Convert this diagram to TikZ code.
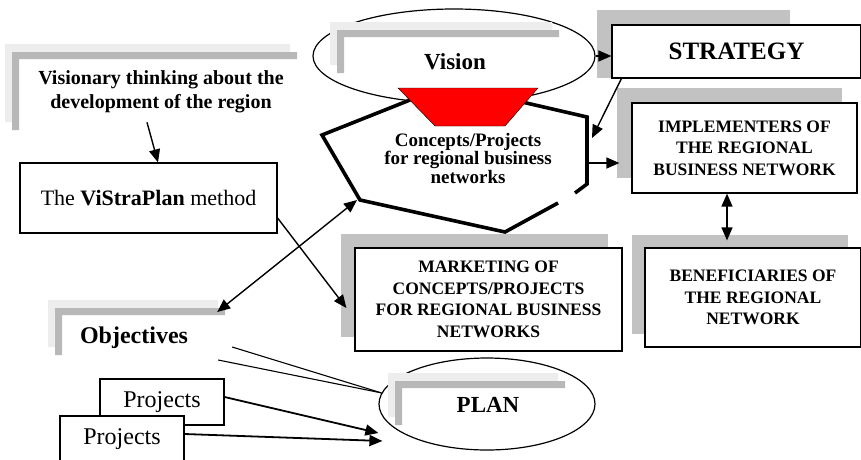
\documentclass[tikz,border=0pt]{standalone}
\usepackage{fontspec}
\setmainfont{Liberation Serif}
\usepackage{tikz}
\usetikzlibrary{calc}
\usetikzlibrary{shapes.geometric}
\usetikzlibrary{shadows}
\usetikzlibrary{arrows.meta}
\definecolor{bevellight}{gray}{.93}
\definecolor{beveldark}{gray}{.72}
\definecolor{boxshadow}{gray}{.76}
\definecolor{funnelred}{RGB}{255,0,0}
\newcommand{\capsfont}{\fontsize{17.5}{21.5}\selectfont\bfseries}
\newcommand{\bevel}[4]{%
    \fill[bevellight] (#1,#2) -- ++(#3,0) -- ++(0,8) -- ++(7-#3,0) -- ++(0,#4-8) -- ++(-7,0) -- cycle;
    \fill[beveldark] (#1+7,#2+8) -- ++(#3,0) -- ++(0,7) -- ++(7-#3,0) -- ++(0,#4-7) -- ++(-7,0) -- cycle;
}
\tikzset{
    common/.style={draw, fill=white, line width=1.2pt, inner sep=0pt, align=center},
    box/.style={common, rectangle},
    shadowed/.style={box, general shadow={fill=boxshadow, shadow xshift=-#1, shadow yshift=#1}},
    shadowed/.default=15pt,
    oval/.style={common, ellipse},
    caption/.style={inner sep=0pt, align=center, font=\bfseries\fontsize{20}{24}\selectfont},
    flow/.style={->, line width=1.4pt},
    twoway/.style={<->, line width=1.4pt},
    outline/.style={line width=3.6pt},
}

\begin{document}
\begin{tikzpicture}[x=1pt, y=-1pt, >={Triangle[length=13pt, width=11pt]}]
    \useasboundingbox (0,0) rectangle (861,459);

    \bevel{5}{44}{285}{78}
    \node[caption] (thinking) at (161,92) {Visionary thinking about the\\development of the region};
    \node[box, minimum width=257, minimum height=70, font=\fontsize{22}{26}\selectfont] (method) at (148.5,198)
        {The \textbf{ViStraPlan} method};

    \node[oval, minimum width=282, minimum height=94] (vision) at (454,56) {};
    \bevel{330}{22}{222}{43}
    \node[caption, font=\bfseries\fontsize{23}{27}\selectfont] (visionlabel) at (455,62) {Vision};

    \coordinate (c1) at (410,100);
    \coordinate (c2) at (322,135);
    \coordinate (c3) at (360,200);
    \coordinate (c4) at (505,232);
    \coordinate (c5) at (558,203);
    \coordinate (c6) at (575,193);
    \coordinate (c7) at (587,184);
    \coordinate (c8) at (587,117);
    \coordinate (c9) at (522,102);
    \draw[outline] (c1) -- (c2) -- (c3) -- (c4) -- (c5) (c6) -- (c7) -- (c8) -- (c9);
    \filldraw[fill=funnelred, line width=.4pt] (398,88) -- (538,88) -- (505,126) -- (435,126) -- cycle;
    \node[caption, font=\bfseries\fontsize{19}{18.5}\selectfont] (concepts) at (468,158)
        {Concepts/Projects\\for regional business\\networks};
    \coordinate (c-strat) at (592,138);
    \coordinate (c-out) at (587,163);

    \fill[boxshadow] (597,10) rectangle (790,78);
    \node[box, minimum width=249, minimum height=53, font=\bfseries\fontsize{25}{30}\selectfont] (strategy) at (736.5,51.5) {STRATEGY};
    \node[shadowed, minimum width=225, minimum height=90, font=\capsfont] (implementers) at (744.5,148)
        {IMPLEMENTERS OF\\THE REGIONAL\\BUSINESS NETWORK};
    \node[shadowed=14.5pt, minimum width=267, minimum height=103, font=\capsfont] (marketing) at (488.5,299.5)
        {MARKETING OF\\CONCEPTS/PROJECTS\\FOR REGIONAL BUSINESS\\NETWORKS};
    \node[shadowed=13pt, minimum width=216, minimum height=99, font=\capsfont] (beneficiaries) at (753,297.5)
        {BENEFICIARIES OF\\THE REGIONAL\\NETWORK};

    \bevel{48}{300}{170}{47}
    \node[caption, font=\bfseries\fontsize{24}{28}\selectfont] (objectives) at (134,338) {Objectives};
    \node[box, minimum width=124, minimum height=46, font=\fontsize{24}{28}\selectfont] (projectsA) at (162,402) {Projects};
    \node[box, minimum width=124, minimum height=46, font=\fontsize{24}{28}\selectfont] (projectsB) at (122,439) {Projects};

    \node[oval, minimum width=216, minimum height=92] (plan) at (487,404) {};
    \bevel{388}{373}{170}{44}
    \node[caption, font=\bfseries\fontsize{23}{27}\selectfont] (planlabel) at (488,405) {PLAN};

    \draw[flow] ([xshift=-14, yshift=-9]thinking.south) -- ([xshift=9.5]method.north);
    \draw[flow] ([yshift=-20]method.east) -- ([xshift=-8, yshift=-8.5]marketing.west);
    \draw[twoway] ([xshift=29, yshift=26]objectives.east) -- ([xshift=-3]c3);
    \draw[flow] (vision.east) -- (vision.east -| strategy.west);
    \draw[flow] ([xshift=10]strategy.south west) -- (c-strat);
    \draw[flow] (c-out) -- ($(c-out -| implementers.west)+(-12,0)$);
    \draw[twoway] ([xshift=-17.5]implementers.south) -- ([xshift=-26, yshift=7]beneficiaries.north);
    \draw[line width=1.1pt] ([xshift=44, yshift=-9]objectives.east) -- (plan.174);
    \draw[line width=1.1pt] ([xshift=30, yshift=-22]objectives.east) -- (plan.174);
    \draw[flow, line width=1.8pt] ([yshift=5]projectsA.east) -- ([yshift=-29]plan.west);
    \draw[flow, line width=1.8pt] ([yshift=5]projectsB.east) -- ([xshift=4, yshift=-37]plan.west);
\end{tikzpicture}
\end{document}
